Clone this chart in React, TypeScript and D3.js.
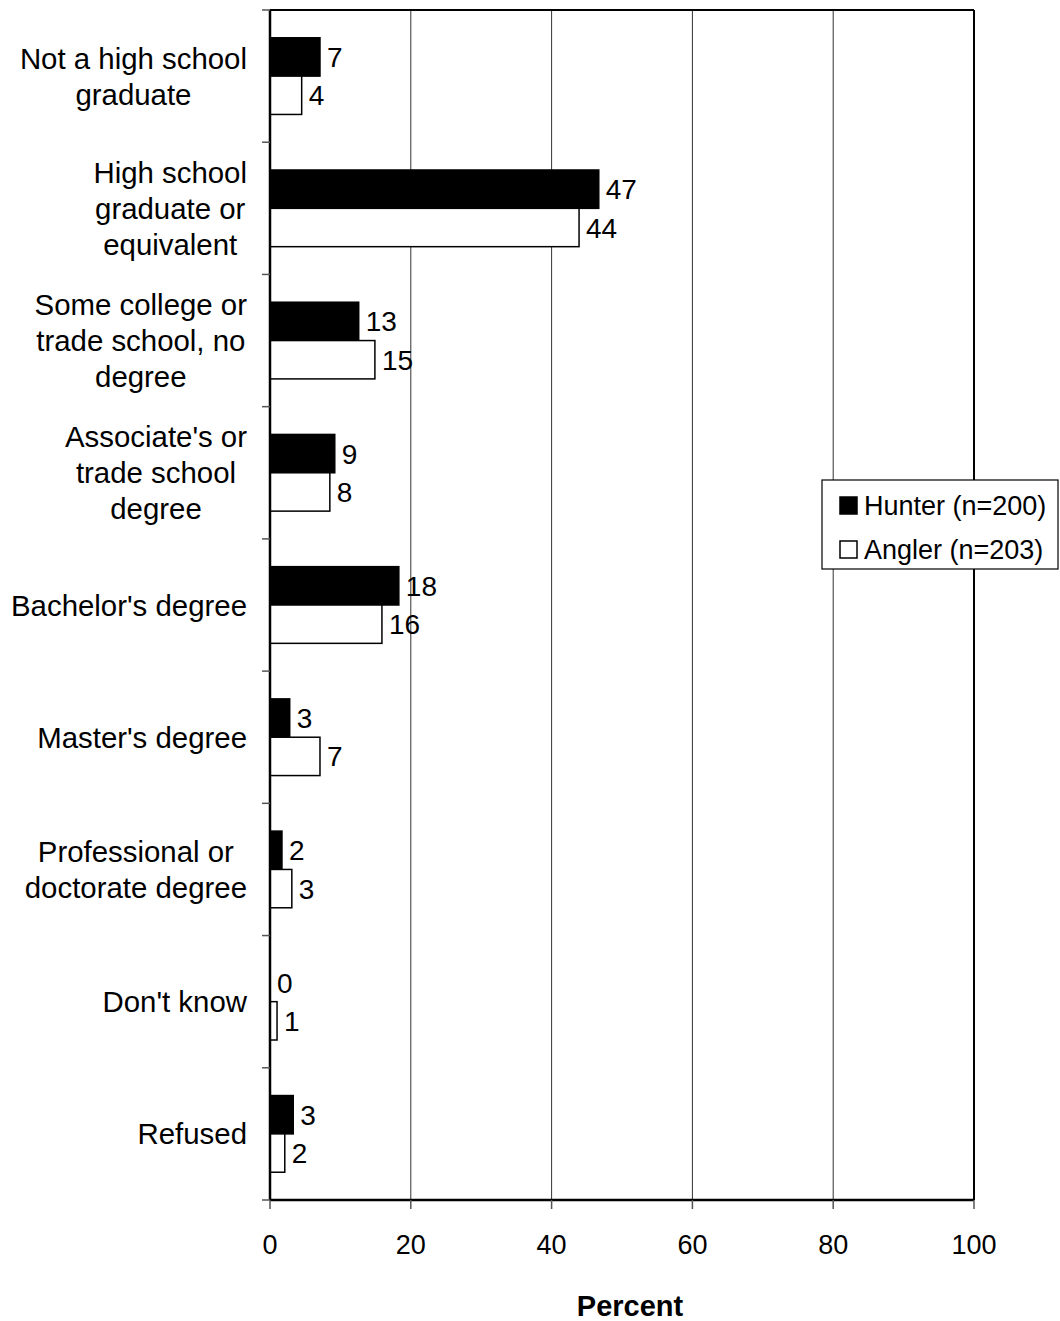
import React from "react";
import * as d3 from "d3";

const categories: string[][] = [
  ["Not a high school", "graduate"],
  ["High school", "graduate or", "equivalent"],
  ["Some college or", "trade school, no", "degree"],
  ["Associate's or", "trade school", "degree"],
  ["Bachelor's degree"],
  ["Master's degree"],
  ["Professional or", "doctorate degree"],
  ["Don't know"],
  ["Refused"],
];
const hunterValues = [7.1, 46.7, 12.6, 9.2, 18.3, 2.8, 1.7, 0, 3.3];
const anglerValues = [4.5, 43.9, 14.9, 8.5, 15.9, 7.1, 3.1, 1.0, 2.1];
const hunterLabels = ["7", "47", "13", "9", "18", "3", "2", "0", "3"];
const anglerLabels = ["4", "44", "15", "8", "16", "7", "3", "1", "2"];
const xTicks = [0, 20, 40, 60, 80, 100];
const seriesNames = ["Hunter (n=200)", "Angler (n=203)"];

const W = 1060;
const H = 1321;
const left = 270;
const right = 974;
const top = 10;
const bottom = 1200;
const FONT = "Liberation Sans, Arial, sans-serif";
const FS = 27;
const CAT_FS = 29.4;
const VAL_FS = 28;

function measure(s: string, size: number): number {
  if (typeof document === "undefined") return s.length * size * 0.5;
  const c = document.createElement("canvas").getContext("2d");
  if (!c) return s.length * size * 0.5;
  c.font = `${size}px "Liberation Sans", Arial, sans-serif`;
  return c.measureText(s).width;
}

export default function App() {
  const x = d3.scaleLinear().domain([0, 100]).range([left, right]);
  const idx = categories.map((_, i) => i);
  const y = d3.scaleBand<number>().domain(idx).range([top, bottom]);
  const bw = y.bandwidth();
  const barH = bw * 0.29;
  const pad = (bw - 2 * barH) / 2;
  const labelRight = 247;

  return (
    <svg width={W} height={H} style={{ position: "absolute", left: 0, top: 0, background: "#fff" }} fontFamily={FONT}>
      <rect x={0} y={0} width={W} height={H} fill="#fff" />
      {xTicks.slice(1, -1).map((t) => (
        <line key={t} x1={x(t)} x2={x(t)} y1={top} y2={bottom} stroke="#333" strokeWidth={1} />
      ))}
      {idx.map((i) => {
        const y0 = (y(i) as number) + pad;
        return (
          <g key={i}>
            <rect x={x(0)} y={y0} width={x(hunterValues[i]) - x(0)} height={barH} fill="#000" stroke="#000" strokeWidth={1.5} />
            <rect x={x(0)} y={y0 + barH} width={x(anglerValues[i]) - x(0)} height={barH} fill="#fff" stroke="#000" strokeWidth={1.5} />
            <text x={x(hunterValues[i]) + 7} y={y0 + barH / 2} dy="0.36em" fontSize={VAL_FS} fill="#000">{hunterLabels[i]}</text>
            <text x={x(anglerValues[i]) + 7} y={y0 + barH * 1.5} dy="0.36em" fontSize={VAL_FS} fill="#000">{anglerLabels[i]}</text>
          </g>
        );
      })}
      <line x1={left} x2={right} y1={top} y2={top} stroke="#000" strokeWidth={2} />
      <line x1={right} x2={right} y1={top} y2={bottom} stroke="#000" strokeWidth={2} />
      <line x1={left} x2={right} y1={bottom} y2={bottom} stroke="#000" strokeWidth={2.5} />
      <line x1={left} x2={left} y1={top} y2={bottom} stroke="#000" strokeWidth={2.5} />
      {[...idx, categories.length].map((i) => {
        const yy = i < categories.length ? (y(i) as number) : bottom;
        return <line key={i} x1={left - 8} x2={left} y1={yy} y2={yy} stroke="#555" strokeWidth={1.5} />;
      })}
      {xTicks.map((t) => (
        <g key={t}>
          <line x1={x(t)} x2={x(t)} y1={bottom} y2={bottom + 9} stroke="#555" strokeWidth={1.5} />
          <text x={x(t)} y={bottom + 44} dy="0.36em" textAnchor="middle" fontSize={FS} fill="#000">{t}</text>
        </g>
      ))}
      {idx.map((i) => {
        const lines = categories[i];
        const cy = (y(i) as number) + bw / 2;
        const lh = 36;
        const start = cy - ((lines.length - 1) * lh) / 2;
        const maxW = Math.max(...lines.map((l) => measure(l, CAT_FS)));
        const cx = labelRight - maxW / 2;
        return (
          <text key={i} fontSize={CAT_FS} fill="#000" textAnchor="middle">
            {lines.map((ln, j) => (
              <tspan key={j} x={cx} y={start + j * lh} dy="0.36em">{ln}</tspan>
            ))}
          </text>
        );
      })}
      <text x={630} y={1306} dy="0.36em" textAnchor="middle" fontSize={29} fontWeight="bold" fill="#000">Percent</text>
      <rect x={822} y={480} width={236} height={89} fill="#fff" stroke="#000" strokeWidth={1.2} />
      {seriesNames.map((s, k) => (
        <g key={s}>
          <rect x={840} y={497 + k * 44} width={17} height={17} fill={k === 0 ? "#000" : "#fff"} stroke="#000" strokeWidth={1.5} />
          <text x={864} y={505 + k * 44} dy="0.36em" fontSize={FS} fill="#000">{s}</text>
        </g>
      ))}
    </svg>
  );
}
